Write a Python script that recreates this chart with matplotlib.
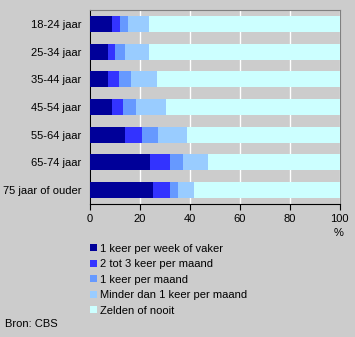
import matplotlib.pyplot as plt

plt.rcParams['font.family'] = ['Liberation Sans', 'DejaVu Sans']

# Leeftijdsgroepen (van boven naar beneden)
groepen = ["18-24 jaar", "25-34 jaar", "35-44 jaar", "45-54 jaar",
           "55-64 jaar", "65-74 jaar", "75 jaar of ouder"]

# Percentages per frequentie
wekelijks = [9.1, 7.5, 7.5, 9.1, 14.3, 24.3, 25.5]
twee_drie = [3.2, 2.8, 4.4, 4.4, 6.8, 8.0, 6.8]
maandelijks = [3.2, 4.0, 4.8, 5.2, 6.4, 5.2, 3.2]
minder = [8.2, 9.4, 10.4, 12.0, 11.6, 10.0, 6.4]
zelden = [76.3, 76.3, 72.9, 69.3, 60.9, 52.5, 58.1]

reeksen = [wekelijks, twee_drie, maandelijks, minder, zelden]
labels = ["1 keer per week of vaker", "2 tot 3 keer per maand",
          "1 keer per maand", "Minder dan 1 keer per maand",
          "Zelden of nooit"]
kleuren = ["#000099", "#3333ff", "#6699ff", "#99ccff", "#ccffff"]

fig = plt.figure(figsize=(3.55, 3.37), dpi=100, facecolor="#cccccc")
ax = fig.add_axes([89.5 / 355, 1 - 204 / 337, 250 / 355, 194 / 337])
ax.set_facecolor("#cccccc")

posities = list(range(len(groepen)))
links = [0] * len(groepen)
balken = []
for waarden, kleur, label in zip(reeksen, kleuren, labels):
    b = ax.barh(posities, waarden, left=links, height=0.58, color=kleur,
                label=label, zorder=3)
    balken.append(b)
    links = [l + w for l, w in zip(links, waarden)]

ax.set_xlim(0, 100)
ax.set_ylim(len(groepen) - 0.5, -0.5)
ax.set_xticks([0, 20, 40, 60, 80, 100])
ax.set_yticks(posities)
ax.set_yticklabels(groepen)
ax.tick_params(axis="y", length=0, labelsize=8, pad=6)
ax.tick_params(axis="x", length=4, labelsize=8, pad=3, direction="out")
ax.grid(axis="x", color="white", linewidth=1, zorder=0)

ax.spines["left"].set_color("black")
ax.spines["bottom"].set_color("black")
ax.spines["top"].set_color("#808080")
ax.spines["right"].set_color("#808080")

fig.text(339 / 355, 1 - 233 / 337, "%", ha="center", va="center", fontsize=8)

fig.legend(handles=balken, labels=labels, loc="upper left",
           bbox_to_anchor=(90 / 355, 1 - 243.5 / 337), frameon=False,
           fontsize=8, handlelength=0.6, handleheight=0.6,
           handletextpad=0.3, labelspacing=0.5, borderpad=0,
           borderaxespad=0)

fig.text(5 / 355, 1 - 324 / 337, "Bron: CBS", ha="left", va="center",
         fontsize=8)

fig.savefig("out.png", dpi=100, facecolor=fig.get_facecolor())
